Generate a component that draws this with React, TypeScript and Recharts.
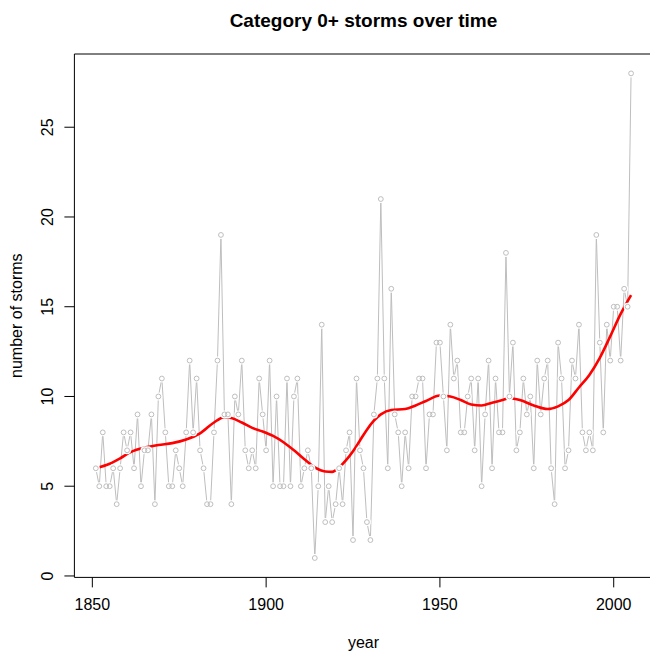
import { ComposedChart, Line, XAxis, YAxis, ReferenceLine } from 'recharts'

// yearly counts of category 0+ storms, 1851 - 2005
const FIRST_YEAR = 1851
const STORMS = [
  6, 5, 8, 5, 5, 6, 4, 6, 8, 7,
  8, 6, 9, 5, 7, 7, 9, 4, 10, 11,
  8, 5, 5, 7, 6, 5, 8, 12, 8, 11,
  7, 6, 4, 4, 8, 12, 19, 9, 9, 4,
  10, 9, 12, 7, 6, 7, 6, 11, 9, 7,
  12, 5, 10, 5, 5, 11, 5, 10, 11, 5,
  6, 7, 6, 1, 5, 14, 3, 5, 3, 4,
  6, 4, 7, 8, 2, 11, 7, 6, 3, 2,
  9, 11, 21, 11, 6, 16, 9, 8, 5, 8,
  6, 10, 10, 11, 11, 6, 9, 9, 13, 13,
  10, 7, 14, 11, 12, 8, 8, 10, 11, 7,
  11, 5, 9, 12, 6, 11, 8, 8, 18, 10,
  13, 7, 8, 11, 9, 10, 6, 12, 9, 11,
  12, 6, 4, 13, 11, 6, 7, 12, 11, 14,
  8, 7, 8, 7, 19, 13, 8, 14, 12, 15,
  15, 12, 16, 15, 28,
]
const YEARS = STORMS.map((_, i) => FIRST_YEAR + i)

const SMOOTH_YEARS = [
  1851, 1855, 1858, 1861, 1865, 1869, 1873, 1877, 1881, 1885, 1888, 1890, 1893, 1896, 1899,
  1902, 1905, 1908, 1911, 1914, 1917, 1919, 1921, 1923, 1925, 1927, 1929, 1931, 1933, 1936,
  1940, 1943, 1946, 1950, 1953, 1956, 1959, 1962, 1965, 1968, 1970, 1973, 1977, 1981, 1984,
  1987, 1990, 1993, 1996, 1999, 2002, 2005,
]
const SMOOTH_VALUES = [
  6.0, 6.25, 6.55, 6.9, 7.15, 7.3, 7.4, 7.6, 7.95, 8.55, 8.85, 8.8, 8.55, 8.25, 8.05,
  7.8, 7.45, 7.0, 6.5, 6.05, 5.82, 5.8, 6.05, 6.45, 6.95, 7.55, 8.15, 8.65, 9.0, 9.25,
  9.3, 9.5, 9.75, 10.05, 10.0, 9.8, 9.55, 9.5, 9.65, 9.8, 9.9, 9.8, 9.5, 9.3, 9.45,
  9.8, 10.5, 11.2, 12.15, 13.35, 14.6, 15.65,
]

const X_TICKS = [1850, 1900, 1950, 2000]
const Y_TICKS = [0, 5, 10, 15, 20, 25]

const GRAY = '#BEBEBE'
const FONT = '"Liberation Sans", Arial, Helvetica, sans-serif'

const rows = YEARS.map((year, i) => {
  const k = SMOOTH_YEARS.indexOf(year)
  return { year, storms: STORMS[i], smooth: k >= 0 ? SMOOTH_VALUES[k] : null }
})

const XTick = ({ x, y, payload }: any) => (
  <text x={x} y={y + 23} textAnchor="middle" fontSize={16} fontFamily={FONT} fill="#000">
    {payload.value}
  </text>
)

const YTick = ({ y, payload }: any) => (
  <text
    x={53.5}
    y={y}
    textAnchor="middle"
    fontSize={16}
    fontFamily={FONT}
    fill="#000"
    transform={`rotate(-90, 53.5, ${y})`}
  >
    {payload.value}
  </text>
)

const GapDot = (p: any) => <circle key={`g${p.index}`} cx={p.cx} cy={p.cy} r={4} fill="#fff" />
const RingDot = (p: any) => (
  <circle key={`r${p.index}`} cx={p.cx} cy={p.cy} r={2.4} fill="none" stroke={GRAY} strokeWidth={1} />
)

export default function App() {
  return (
    <div style={{ position: 'fixed', left: 0, top: 0, width: 650, height: 652, overflow: 'hidden', background: '#fff' }}>
      <ComposedChart width={700} height={652} data={rows} margin={{ top: 54, right: 47.5, bottom: 0, left: 0 }}>
        <XAxis
          dataKey="year"
          type="number"
          domain={[1844.84, 2011.16]}
          ticks={X_TICKS}
          allowDataOverflow
          height={74.6}
          tickSize={10}
          tickMargin={0}
          tick={<XTick />}
          axisLine={{ stroke: '#000' }}
          tickLine={{ stroke: '#000' }}
        />
        <YAxis
          type="number"
          domain={[-0.08, 29.08]}
          ticks={Y_TICKS}
          allowDataOverflow
          width={74.4}
          tickSize={10}
          tickMargin={0}
          tick={<YTick />}
          axisLine={{ stroke: '#000' }}
          tickLine={{ stroke: '#000' }}
        />
        <ReferenceLine y={29.08} stroke="#000" />
        <Line dataKey="storms" type="linear" stroke={GRAY} strokeWidth={1} dot={GapDot} activeDot={false} isAnimationActive={false} />
        <Line dataKey="storms" type="linear" stroke="none" dot={RingDot} activeDot={false} isAnimationActive={false} />
        <Line
          dataKey="smooth"
          type="monotone"
          stroke="#FF0000"
          strokeWidth={2.6}
          dot={false}
          activeDot={false}
          connectNulls
          isAnimationActive={false}
        />
      </ComposedChart>
      <svg width={650} height={652} style={{ position: 'absolute', left: 0, top: 0, pointerEvents: 'none' }}>
        <text x={363.5} y={27} textAnchor="middle" fontSize={19} fontWeight="bold" fontFamily={FONT} fill="#000">
          Category 0+ storms over time
        </text>
        <text x={363.5} y={648} textAnchor="middle" fontSize={16} fontFamily={FONT} fill="#000">
          year
        </text>
        <text
          x={22}
          y={315.7}
          textAnchor="middle"
          fontSize={16}
          fontFamily={FONT}
          fill="#000"
          transform="rotate(-90, 22, 315.7)"
        >
          number of storms
        </text>
      </svg>
    </div>
  )
}
